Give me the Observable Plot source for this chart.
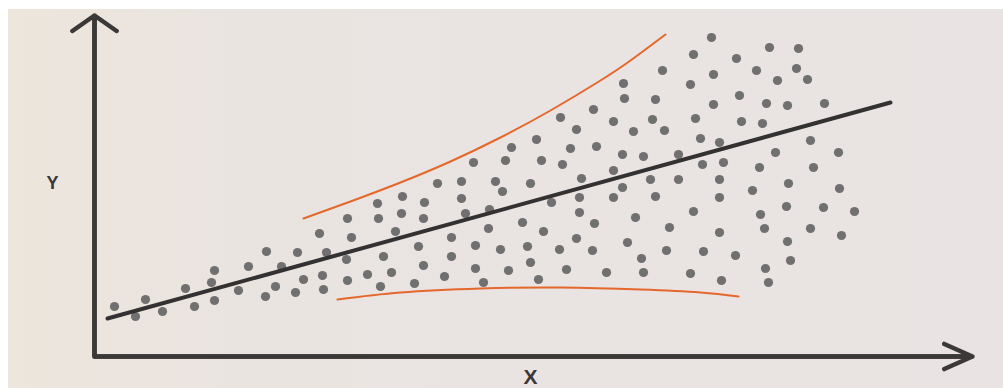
<!DOCTYPE html>
<html>
<head>
<meta charset="utf-8">
<script src="https://cdn.jsdelivr.net/npm/d3@7"></script>
<script src="https://cdn.jsdelivr.net/npm/@observablehq/plot@0.6"></script>
<style>
  html, body { margin: 0; padding: 0; background: #ffffff; }
  #chart {
    width: 1003px; height: 388px; overflow: hidden;
    background:
      linear-gradient(90deg, #ede6dc 0%, #ece5de 8%, #eae4e0 22%, #e9e3e2 45%, #e9e3e3 100%) no-repeat 8px 9px / 995px 379px,
      #ffffff;
  }
  #chart svg { display: block; }
</style>
</head>
<body>
<div id="chart"></div>
<script>
// Scatter points (X, Y)
const dotX = [2.0,4.1,5.1,6.8,9.1,10.0,11.7,12.0,12.0,14.4,15.4,17.2,17.1,18.1,18.7,20.3,20.1,20.9,22.5,22.8,22.9,23.2,
  25.2,25.3,25.7,25.3,27.3,28.3,28.4,28.9,28.6,29.7,30.1,30.8,30.7,33.0,32.9,32.4,32.9,32.0,34.3,35.7,35.7,35.0,36.7,36.7,37.1,37.9,38.1,38.1,38.9,39.4,39.5,
  56.8,52.9,53.0,56.1,49.9,46.6,51.9,55.8,48.2,53.9,57.0,44.2,41.7,47.6,50.2,52.8,54.9,58.4,41.1,44.7,46.8,51.9,40.1,43.6,48.7,55.6,58.4,52.8,
  40.8,45.7,48.5,51.9,56.1,48.5,54.1,42.8,44.9,50.0,57.5,48.2,53.3,40.6,43.3,46.5,49.8,57.2,43.6,54.7,41.4,47.2,51.2,54.9,44.4,
  61.7,59.9,67.5,70.4,64.2,66.2,70.2,61.9,68.3,71.3,59.6,64.5,61.9,67.2,69.3,73.0,60.1,64.7,66.8,60.6,62.5,71.6,68.1,74.4,60.8,62.9,66.5,71.9,
  62.5,69.4,65.8,74.5,62.5,59.9,66.6,69.2,72.9,76.0,62.5,67.0,71.6,74.7,69.3,60.9,64.1,69.6,59.6,67.1,62.7,67.4];
const dotY = [5.0,4.0,5.7,4.5,6.8,5.0,7.4,8.6,5.6,6.6,9.0,10.5,6.0,7.0,9.0,10.4,6.4,7.7,12.3,8.1,6.7,10.4,
  9.7,13.8,11.9,7.6,8.2,15.3,13.8,10.0,7.0,8.4,12.5,16.0,14.3,15.4,13.8,11.0,9.1,7.3,17.3,11.9,10.0,8.0,17.5,15.8,14.3,19.4,11.1,8.8,7.4,12.8,14.7,
  28.6,27.3,25.8,25.7,24.7,23.9,23.5,23.7,22.7,22.5,22.6,21.7,20.9,20.8,21.0,20.2,20.0,20.2,19.6,19.6,19.2,18.6,17.5,17.3,17.8,17.7,17.7,16.9,
  16.5,15.4,15.9,15.9,16.0,14.4,13.9,13.4,12.5,13.3,12.9,11.8,11.4,10.7,11.0,10.7,10.6,10.6,9.4,9.8,8.6,8.7,8.4,8.4,7.7,
  31.9,30.2,30.9,30.8,29.8,28.6,28.8,28.2,27.6,27.7,27.2,26.1,25.2,25.3,25.1,25.3,23.8,23.5,23.3,21.8,21.4,21.6,20.4,20.4,19.2,19.4,18.9,18.9,
  17.7,17.3,16.6,16.8,15.9,14.5,14.2,15.0,14.9,14.5,12.4,12.8,12.8,12.1,11.5,10.5,10.1,9.6,8.3,8.8,7.6,7.4];

// Fitted regression line (end points)
const fitX = [1.3, 79.6];
const fitY = [3.8, 25.4];

// Upper and lower envelope curves (orange)
const upperX = [20.9, 25.6, 30.6, 35.6, 40.6, 45.6, 50.6, 53.6, 57.1];
const upperY = [13.8, 15.5, 17.4, 19.5, 21.9, 24.6, 27.6, 29.6, 32.2];
const lowerX = [24.3, 30.6, 38.6, 46.6, 54.6, 60.6, 64.4];
const lowerY = [5.7, 6.4, 6.8, 6.9, 6.7, 6.4, 6.0];

// Axis extents and labels
const axisX = [0, 87.8];
const axisY = [0, 34.1];
const axisLabels = ["X", "Y"];

const dots = dotX.map((x, i) => ({x, y: dotY[i]}));
const fit = fitX.map((x, i) => ({x, y: fitY[i]}));
const upper = upperX.map((x, i) => ({x, y: upperY[i]}));
const lower = lowerX.map((x, i) => ({x, y: lowerY[i]}));
const corner = [{x: axisX[0], y: axisY[1]}, {x: axisX[0], y: axisY[0]}, {x: axisX[1], y: axisY[0]}];

const axisColor = "#3b3838";
const font = "'Liberation Sans', Arial, Helvetica, sans-serif";

const chart = Plot.plot({
  width: 1003,
  height: 388,
  marginLeft: 94,
  marginRight: 31,
  marginTop: 15,
  marginBottom: 32,
  x: {domain: axisX, axis: null},
  y: {domain: axisY, axis: null},
  style: {background: "transparent", overflow: "visible"},
  marks: [
    // axes
    Plot.line(corner, {x: "x", y: "y", stroke: axisColor, strokeWidth: 4.5, strokeLinejoin: "miter", strokeLinecap: "butt"}),
    Plot.arrow([{}], {x1: axisX[0], y1: axisY[0], x2: axisX[0], y2: axisY[1], stroke: axisColor, strokeWidth: 4.5, headAngle: 110, headLength: 9}),
    Plot.arrow([{}], {x1: axisX[0], y1: axisY[0], x2: axisX[1], y2: axisY[0], stroke: axisColor, strokeWidth: 4.5, headAngle: 48, headLength: 10.3}),
    // scatter
    Plot.dot(dots, {x: "x", y: "y", r: 4.6, fill: "#717070", stroke: "none"}),
    // envelope curves
    Plot.line(upper, {x: "x", y: "y", stroke: "#e4672c", strokeWidth: 2, curve: "natural"}),
    Plot.line(lower, {x: "x", y: "y", stroke: "#e4672c", strokeWidth: 2, curve: "natural"}),
    // regression line
    Plot.line(fit, {x: "x", y: "y", stroke: "#333131", strokeWidth: 4, strokeLinecap: "round"}),
    // axis labels
    Plot.text([axisLabels[0]], {x: 43.6, y: -2.1, text: d => d, fontSize: 21, fontWeight: "bold", fill: "#3a3838", fontFamily: font, textAnchor: "middle", lineAnchor: "middle"}),
    Plot.text([axisLabels[1]], {x: -4.2, y: 17.3, text: d => d, fontSize: 18, fontWeight: "bold", fill: "#3a3838", fontFamily: font, textAnchor: "middle", lineAnchor: "middle"})
  ]
});
document.getElementById("chart").appendChild(chart);
</script>
</body>
</html>
